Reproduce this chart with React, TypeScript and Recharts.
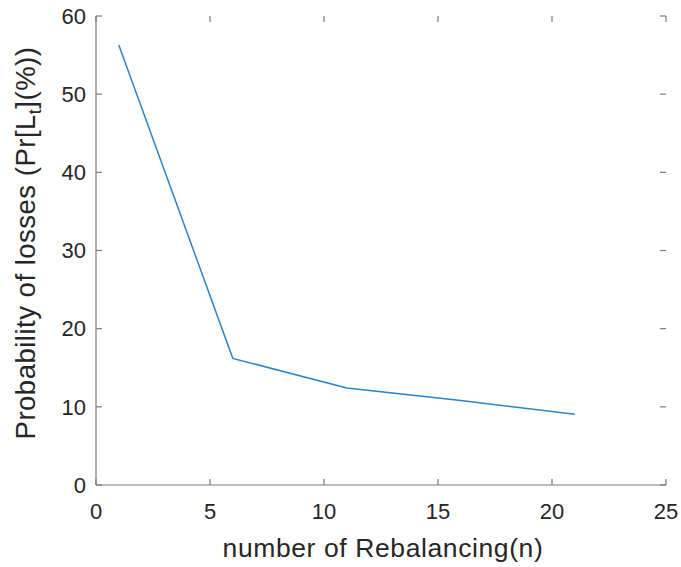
import React from 'react';
import { LineChart, Line, XAxis, YAxis, Label } from 'recharts';

// values
const rebalancing = [1, 6, 11, 16, 21];
const lossProb = [56.3, 16.2, 12.4, 10.8, 9.05];
const xTicks = [0, 5, 10, 15, 20, 25];
const yTicks = [0, 10, 20, 30, 40, 50, 60];

const data = rebalancing.map((n, i) => ({ n, p: lossProb[i] }));

const W = 681;
const H = 567;
const MARGIN = { top: 16, right: 15, bottom: 0, left: 46 };
const AXIS = '#7a7a7a';
const TEXT = '#262626';
const FONT = '"Liberation Sans", Arial, sans-serif';
const TICK_LEN = 6;
const X_GAP = 18;
const Y_GAP = 10;

// MATLAB-style ticks point into the box; the bottom/left ticks also mark the top/right edges
const BottomTick = ({ x, y, payload }: any) => (
  <g>
    <path d={`M${x},${y - X_GAP}v${-TICK_LEN}`} stroke={AXIS} strokeWidth={1.2} />
    <path d={`M${x},${MARGIN.top}v${TICK_LEN}`} stroke={AXIS} strokeWidth={1.2} />
    <text x={x} y={y} dy="0.71em" textAnchor="middle" fontSize={22} fill={TEXT} fontFamily={FONT}>
      {payload.value}
    </text>
  </g>
);

const LeftTick = ({ x, y, payload }: any) => (
  <g>
    <path d={`M${x + Y_GAP},${y}h${TICK_LEN}`} stroke={AXIS} strokeWidth={1.2} />
    <path d={`M${W - MARGIN.right},${y}h${-TICK_LEN}`} stroke={AXIS} strokeWidth={1.2} />
    <text x={x} y={y} dy="0.355em" textAnchor="end" fontSize={22} fill={TEXT} fontFamily={FONT}>
      {payload.value}
    </text>
  </g>
);

const App: React.FC = () => {
  return (
    <div style={{ position: 'absolute', left: 0, top: 0, background: '#fff' }}>
      <LineChart width={W} height={H} data={data} margin={MARGIN}>
        <XAxis
          xAxisId="b"
          dataKey="n"
          type="number"
          domain={[0, 25]}
          allowDataOverflow
          ticks={xTicks}
          height={82}
          stroke={AXIS}
          strokeWidth={1.2}
          tickLine={false}
          tickSize={0}
          tickMargin={X_GAP}
          tick={BottomTick}
        >
          <Label
            content={({ viewBox }: any) => (
              <text
                x={viewBox.x + viewBox.width / 2 + 2}
                y={557}
                textAnchor="middle"
                fontSize={26.5}
                letterSpacing={0.6}
                fill={TEXT}
                fontFamily={FONT}
              >
                number of Rebalancing(n)
              </text>
            )}
          />
        </XAxis>
        {/* top edge of the box */}
        <XAxis
          xAxisId="t"
          orientation="top"
          type="number"
          domain={[0, 25]}
          allowDataOverflow
          height={0}
          stroke={AXIS}
          strokeWidth={1.2}
          tickLine={false}
          tick={false}
        />
        <YAxis
          yAxisId="l"
          type="number"
          domain={[0, 60]}
          allowDataOverflow
          ticks={yTicks}
          width={50}
          stroke={AXIS}
          strokeWidth={1.2}
          tickLine={false}
          tickSize={0}
          tickMargin={Y_GAP}
          tick={LeftTick}
        >
          <Label
            content={() => (
              <text
                x={35}
                y={243}
                transform="rotate(-90, 35, 243)"
                textAnchor="middle"
                fontSize={27.5}
                letterSpacing={0.5}
                fill={TEXT}
                fontFamily={FONT}
              >
                Probability of losses (Pr[L
                <tspan fontSize={18} dy={6}>t</tspan>
                <tspan dy={-6}>](%))</tspan>
              </text>
            )}
          />
        </YAxis>
        {/* right edge of the box */}
        <YAxis
          yAxisId="r"
          orientation="right"
          type="number"
          domain={[0, 60]}
          allowDataOverflow
          width={0}
          stroke={AXIS}
          strokeWidth={1.2}
          tickLine={false}
          tick={false}
        />
        <Line
          xAxisId="b"
          yAxisId="l"
          type="linear"
          dataKey="p"
          stroke="#2a84c8"
          strokeWidth={1.5}
          dot={false}
          activeDot={false}
          isAnimationActive={false}
        />
      </LineChart>
    </div>
  );
};

export default App;
